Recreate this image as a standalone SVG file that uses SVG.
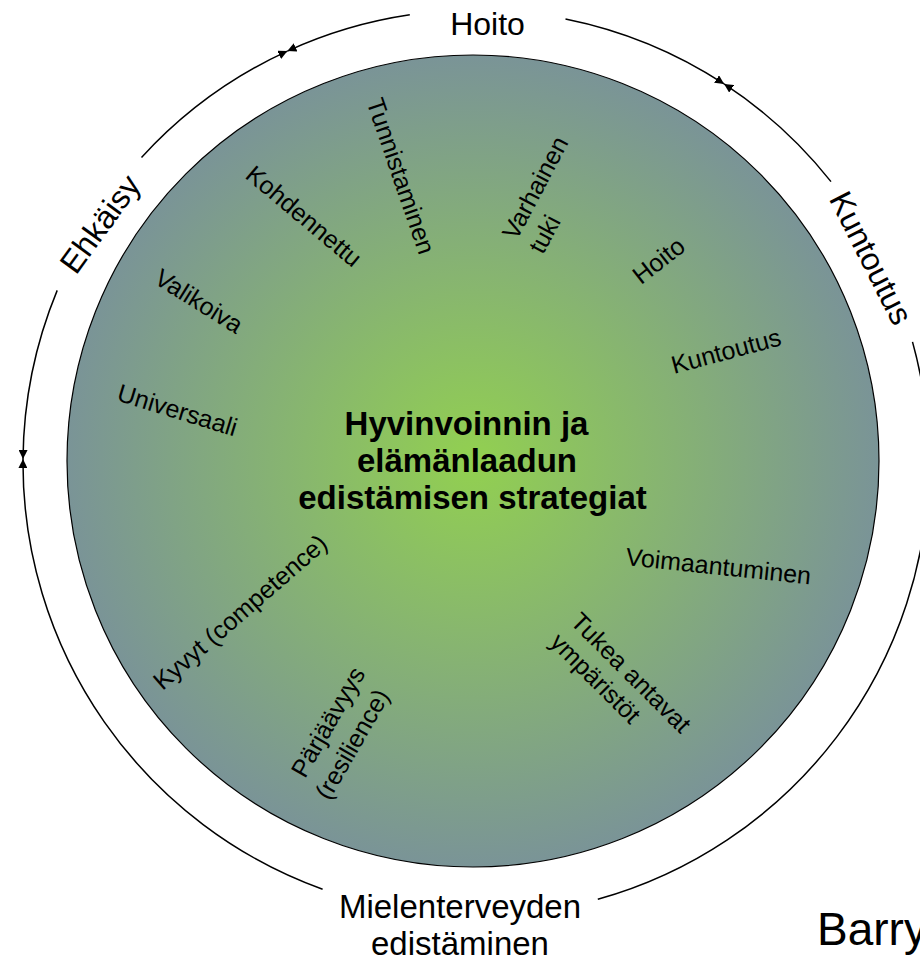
<svg xmlns="http://www.w3.org/2000/svg" width="920" height="963" viewBox="0 0 920 963">
<style>
text{font-family:"Liberation Sans",Arial,sans-serif;fill:#000}
.ring{font-size:32px}
.ringb{font-size:33px}
.inner{font-size:25px}
.center{font-size:33px;font-weight:bold;text-anchor:middle}
.mid{text-anchor:middle}
.arc{fill:none;stroke:#000;stroke-width:1.5;marker-end:url(#ah)}
.plain{fill:none;stroke:#000;stroke-width:1.5}
</style>
<defs>
<radialGradient id="bg" cx="50%" cy="50%" r="50%">
<stop offset="0" stop-color="#92d050"/>
<stop offset="1" stop-color="#7a9497"/>
</radialGradient>
<marker id="ah" viewBox="0 0 10 10" refX="10" refY="5" markerWidth="9" markerHeight="9" markerUnits="userSpaceOnUse" orient="auto">
<path d="M0,0 L10,5 L0,10 z" fill="#000"/>
</marker>
</defs>
<rect width="920" height="963" fill="#fff"/>
<g id="strategies-circle">
<circle cx="473" cy="461" r="406" fill="url(#bg)" stroke="#000" stroke-width="1.2"/>
</g>
<g id="connectors">
<path class="arc" d="M141.5,157.5 A453,453 0 0 1 287.4,51.1"/>
<path class="arc" d="M409.8,14.8 A453,453 0 0 0 287.4,51.1"/>
<path class="arc" d="M565.5,18.9 A453,453 0 0 1 724.1,83.9"/>
<path class="arc" d="M831,181.6 A453,453 0 0 0 724.1,83.9"/>
<path class="arc" d="M912.5,341.9 A453,453 0 0 1 929,463"/>
<path class="arc" d="M597.8,899.3 A453,453 0 0 0 929,463"/>
<path class="arc" d="M57.2,290.4 A453,453 0 0 0 23,459"/>
<path class="arc" d="M322.6,889.2 A453,453 0 0 1 23,459"/>
</g>
<g id="label-hoito-ring"><text class="ring mid" x="487.5" y="35">Hoito</text></g>
<g id="label-ehkaisy" transform="translate(100,224) rotate(-54)"><text class="ring mid" x="0" y="11">Ehkäisy</text></g>
<g id="label-kuntoutus-ring" transform="translate(871,258) rotate(63)"><text class="ring mid" x="0" y="11">Kuntoutus</text></g>
<g id="label-mielenterveyden"><text class="ringb mid" x="460" y="918">Mielenterveyden</text><text class="ringb mid" x="460" y="955">edistäminen</text></g>
<g id="label-barry"><text x="817" y="945" style="font-size:46px">Barry</text></g>
<g id="center-title">
<text class="center" x="466.5" y="435">Hyvinvoinnin ja</text>
<text class="center" x="467" y="472">elämänlaadun</text>
<text class="center" x="472.5" y="509">edistämisen strategiat</text>
</g>
<g id="tunnistaminen" transform="translate(401,176) rotate(71)"><text class="inner mid" y="8.75">Tunnistaminen</text></g>
<g id="kohdennettu" transform="translate(304,216) rotate(40)"><text class="inner mid" y="8.75">Kohdennettu</text></g>
<g id="valikoiva" transform="translate(199,301) rotate(32)"><text class="inner mid" y="8.75">Valikoiva</text></g>
<g id="universaali" transform="translate(177.5,410) rotate(17)"><text class="inner mid" y="8.75">Universaali</text></g>
<g id="varhainen-tuki" transform="translate(549,194) rotate(-62)"><text class="inner" x="-57" y="-6.5">Varhainen</text><text class="inner" x="-57" y="23.5">tuki</text></g>
<g id="hoito-inner" transform="translate(658.5,260.5) rotate(-38)"><text class="inner mid" y="8.75">Hoito</text></g>
<g id="kuntoutus-inner" transform="translate(726,351) rotate(-15)"><text class="inner mid" y="8.75">Kuntoutus</text></g>
<g id="voimaantuminen" transform="translate(718.5,566) rotate(6)"><text class="inner mid" y="8.75">Voimaantuminen</text></g>
<g id="tukea" transform="translate(621,683) rotate(45)"><text class="inner" x="-79" y="-5.75">Tukea antavat</text><text class="inner" x="-79" y="23.25">ympäristöt</text></g>
<g id="parjaavyys" transform="translate(340,733) rotate(-60)"><text class="inner mid" x="3.5" y="-7.25">Pärjäävyys</text><text class="inner mid" x="-3.5" y="24.75">(resilience)</text></g>
<g id="kyvyt" transform="translate(240,612) rotate(-41)"><text class="inner mid" y="8.75">Kyvyt (competence)</text></g>
</svg>
